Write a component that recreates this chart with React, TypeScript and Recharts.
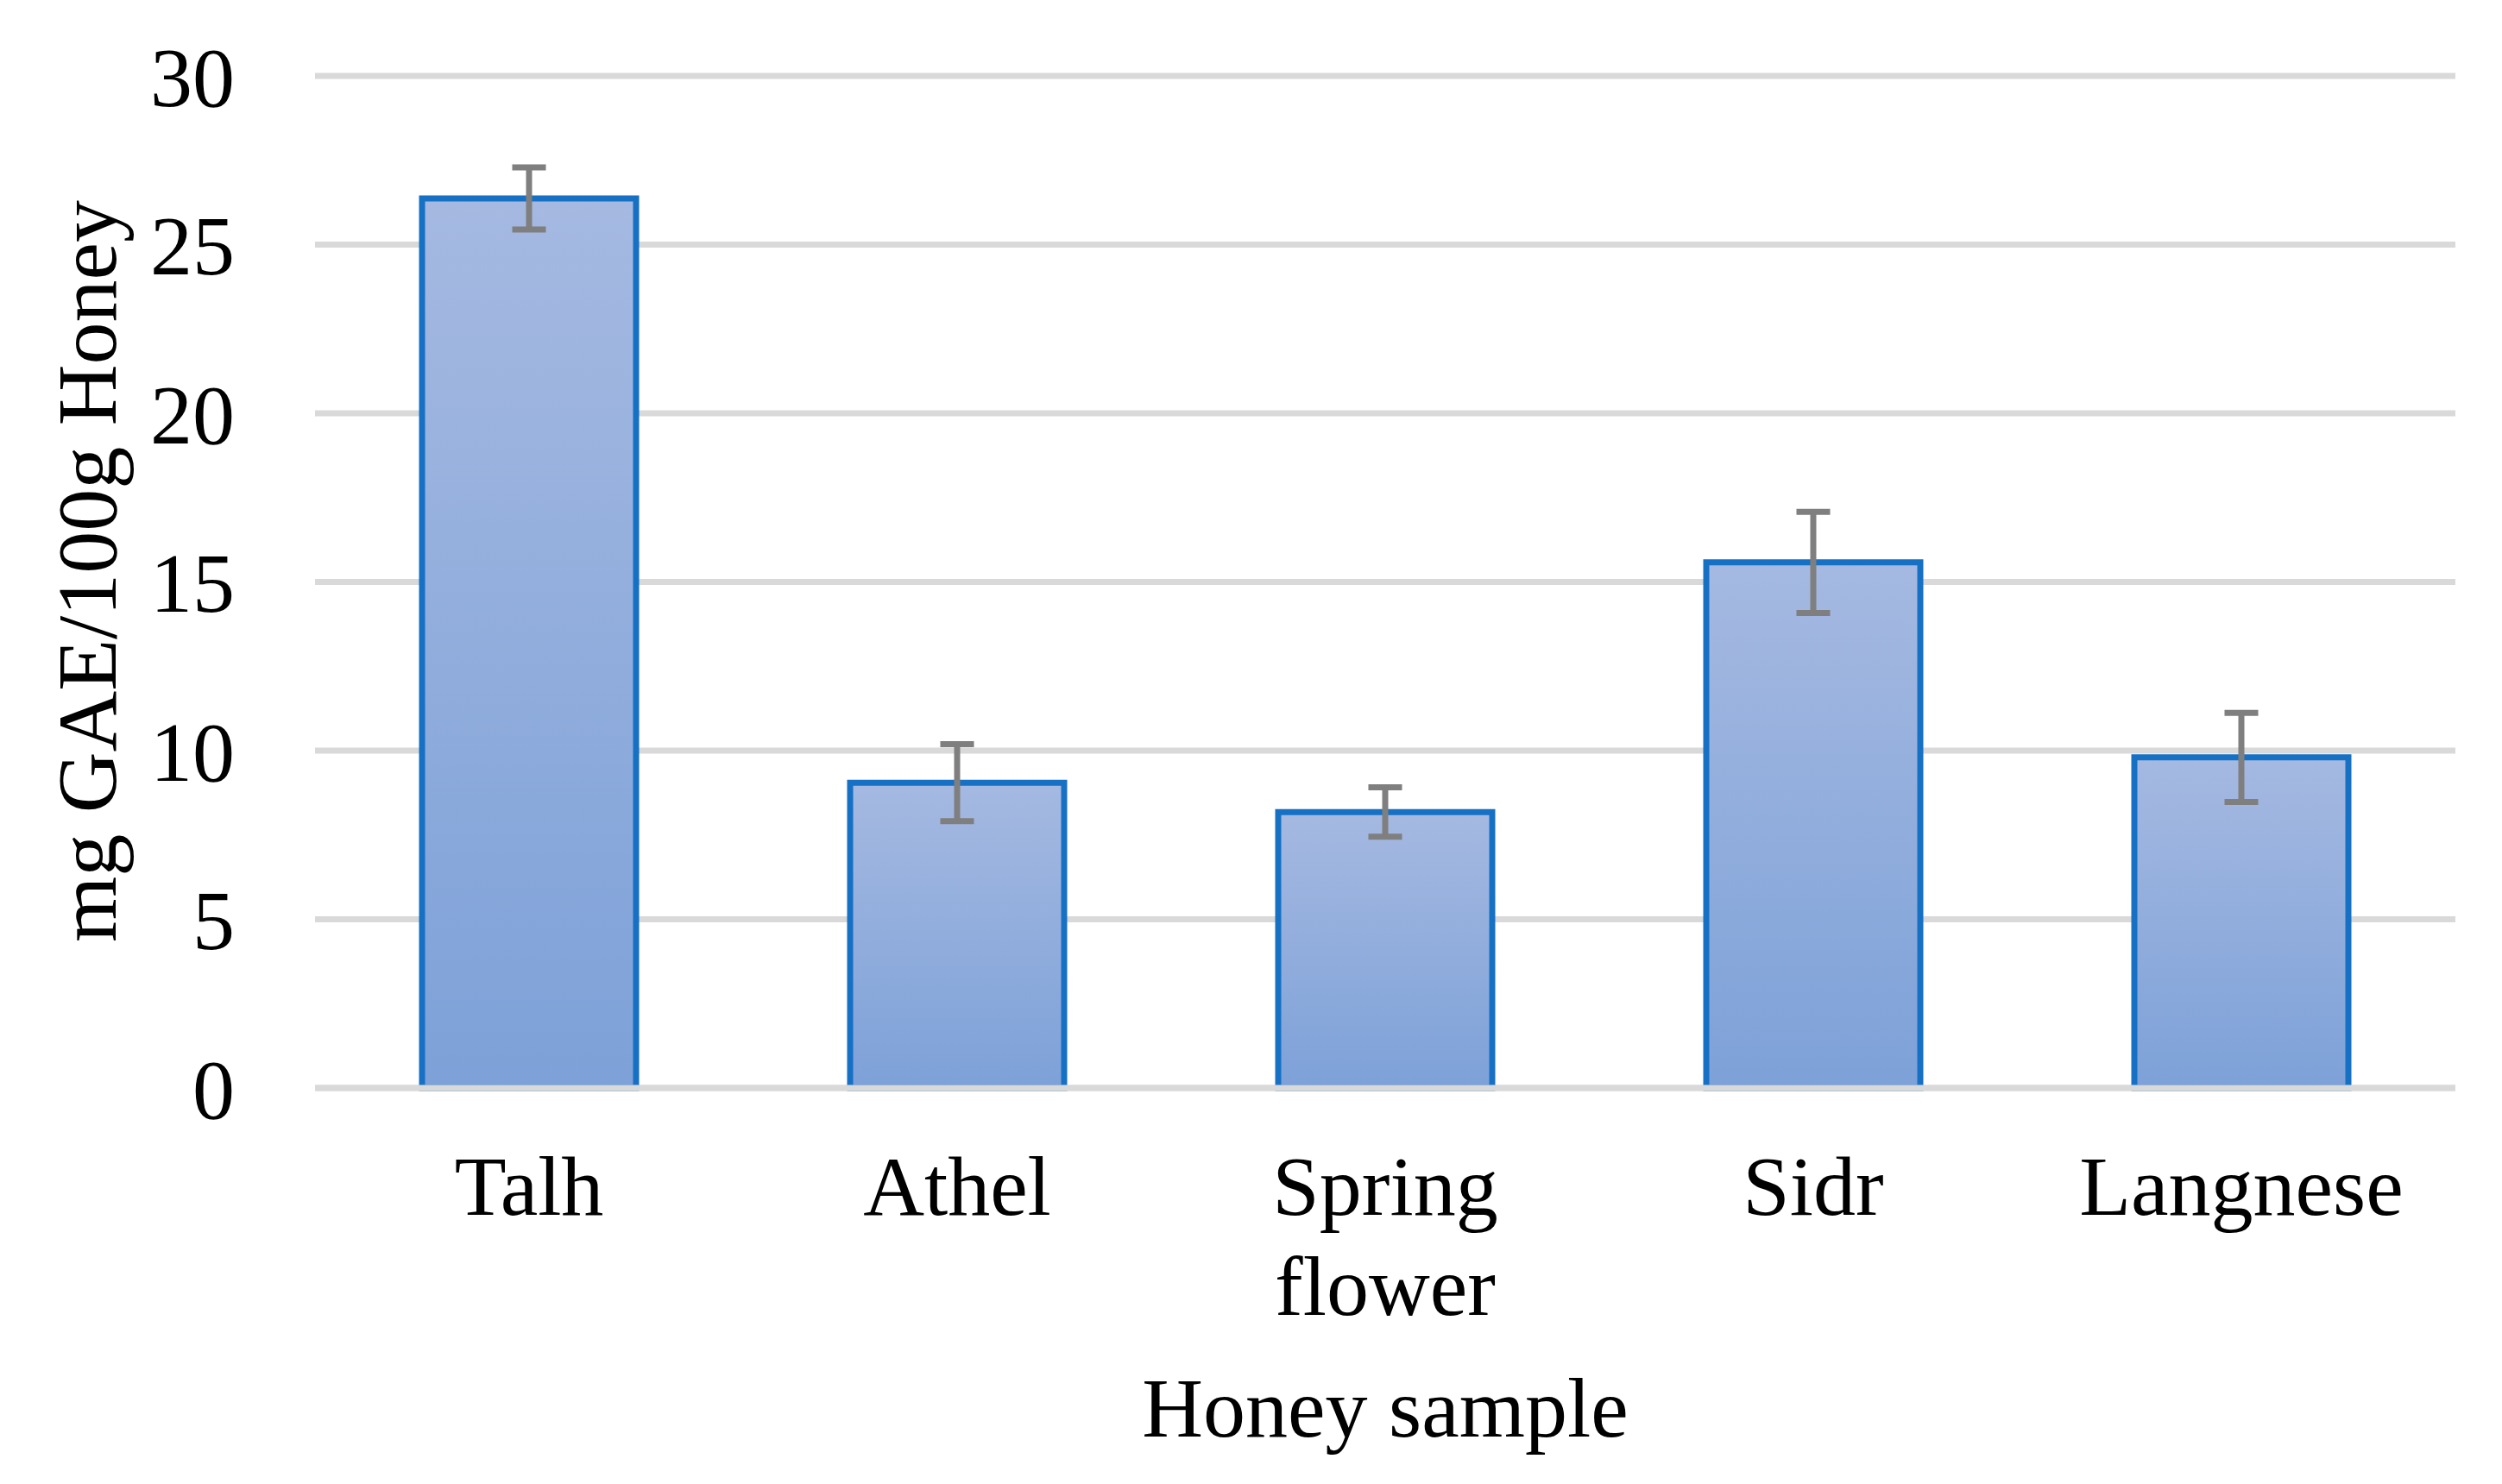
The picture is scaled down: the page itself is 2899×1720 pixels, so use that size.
import { BarChart, Bar, XAxis, YAxis, CartesianGrid, ErrorBar, Label } from "recharts";

const samples = ["Talh", "Athel", "Spring flower", "Sidr", "Langnese"];
const phenolic = [26.37, 9.05, 8.18, 15.58, 9.8];
const stdDev = [0.92, 1.14, 0.73, 1.5, 1.32];
const yTicks = [0, 5, 10, 15, 20, 25, 30];

const FONT = "'Liberation Serif', 'Times New Roman', serif";

const data = samples.map((name, i) => ({ name, value: phenolic[i], err: stdDev[i] }));

function CategoryTick({ x, y, payload }: any) {
  const words = String(payload.value).split(" ");
  return (
    <text x={x} y={y + 147} textAnchor="middle" fontFamily={FONT} fontSize={98} fill="#000">
      {words.map((w, i) => (
        <tspan key={i} x={x} dy={i === 0 ? 0 : 116}>
          {w}
        </tspan>
      ))}
    </text>
  );
}

export default function App() {
  return (
    <div style={{ position: "absolute", left: 0, top: 0, width: 2899, height: 1720, background: "#fff" }}>
      <BarChart
        width={2899}
        height={1720}
        data={data}
        margin={{ top: 88, right: 54, bottom: 0, left: 0 }}
        barSize={248}
      >
        <defs>
          <linearGradient id="barFill" x1="0" y1="0" x2="0" y2="1">
            <stop offset="0%" stopColor="#A5B9E1" />
            <stop offset="100%" stopColor="#7DA1D8" />
          </linearGradient>
        </defs>
        <CartesianGrid vertical={false} stroke="#D9D9D9" strokeWidth={7} />
        <XAxis
          dataKey="name"
          height={459}
          tickLine={false}
          tickSize={0}
          tickMargin={0}
          interval={0}
          axisLine={{ stroke: "#D9D9D9", strokeWidth: 7 }}
          tick={<CategoryTick />}
        >
          <Label
            content={({ viewBox }: any) => (
              <text
                x={viewBox.x + viewBox.width / 2}
                y={viewBox.y + 404}
                textAnchor="middle"
                fontFamily={FONT}
                fontSize={98}
                fill="#000"
              >
                Honey sample
              </text>
            )}
          />
        </XAxis>
        <YAxis
          width={365}
          domain={[0, 30]}
          ticks={yTicks}
          axisLine={false}
          tickLine={false}
          tickSize={0}
          tickMargin={93}
          tick={{ fontFamily: FONT, fontSize: 98, fill: "#000" }}
        >
          <Label
            content={() => (
              <text
                transform="translate(134,662) rotate(-90)"
                textAnchor="middle"
                fontFamily={FONT}
                fontSize={98}
                fill="#000"
              >
                mg GAE/100g Honey
              </text>
            )}
          />
        </YAxis>
        <Bar dataKey="value" fill="url(#barFill)" stroke="#1670C4" strokeWidth={7} isAnimationActive={false}>
          <ErrorBar
            dataKey="err"
            direction="y"
            width={19.5}
            stroke="#7F7F7F"
            strokeWidth={7}
            isAnimationActive={false}
          />
        </Bar>
      </BarChart>
    </div>
  );
}
